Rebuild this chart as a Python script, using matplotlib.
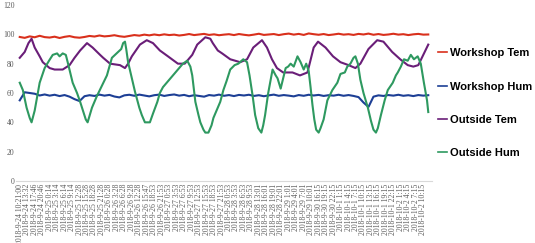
import numpy as np
import matplotlib
matplotlib.use('Agg')
import matplotlib.pyplot as plt

# tick labels (one every 12 samples)
tick_labels = ['2018-9-24 10:21:00', '2018-9-24 13:32', '2018-9-24 17:46', '2018-9-24 20:46']
tick_labels += ['2018-9-25 ' + t for t in ['0:14', '3:14', '6:14', '9:14', '12:28', '15:28', '18:28', '21:28']]
tick_labels += ['2018-9-26 ' + t for t in ['0:28', '3:28', '6:28', '9:28', '12:28', '15:47', '18:53', '21:53']]
tick_labels += ['2018-9-27 ' + t for t in ['0:53', '3:53', '6:53', '9:53', '12:53', '15:53', '18:53', '21:53']]
tick_labels += ['2018-9-28 ' + t for t in ['0:53', '3:53', '6:53', '9:53', '13:01', '16:01', '19:01', '22:01']]
tick_labels += ['2018-9-29 ' + t for t in ['1:01', '4:01', '7:01', '10:01']]
tick_labels += ['2018-9-30 ' + t for t in ['16:15', '19:15', '22:15']]
tick_labels += ['2018-10-1 ' + t for t in ['1:15', '4:15', '7:15', '10:15', '13:15', '16:15', '19:15', '22:15']]
tick_labels += ['2018-10-2 ' + t for t in ['1:15', '4:15', '7:15', '10:15']]
tick_step = 12
n_samples = 656

# Workshop Tem (sampled every 8 samples)
workshop_tem = [98.2, 97.6, 98.6, 98.0, 99.0, 98.1, 97.8, 98.4, 97.5, 98.3, 98.8, 98.0, 97.7, 98.2,
                98.9, 98.5, 99.2, 98.6, 98.9, 99.4, 98.7, 98.3, 98.9, 99.5, 99.1, 99.8, 99.3, 99.9,
                99.4, 100.0, 99.5, 99.8, 99.2, 99.6, 100.2, 99.5, 99.9, 100.3, 99.6, 100.0, 99.4, 99.8,
                100.1, 99.5, 100.2, 99.7, 99.3, 99.8, 100.4, 99.6, 99.9, 100.2, 99.5, 100.1, 100.5, 99.8,
                100.3, 99.6, 100.6, 100.1, 99.7, 100.2, 99.5, 99.9, 100.4, 99.8, 100.1, 99.6, 100.3, 99.9,
                100.5, 99.7, 100.2, 99.6, 99.9, 100.4, 99.8, 100.1, 99.5, 100.0, 100.3, 99.8, 99.9]

# Workshop Hum (sampled every 8 samples)
workshop_hum = [55.0, 60.5, 60.0, 59.5, 58.3, 59.0, 58.2, 58.8, 57.9, 58.6, 57.5, 55.8, 54.5, 57.8,
                58.5, 58.0, 58.9, 58.2, 58.7, 57.6, 57.0, 58.4, 58.8, 58.1, 58.9, 58.3, 57.7, 58.5,
                58.9, 58.0, 58.6, 59.0, 58.2, 58.7, 57.8, 58.5, 58.0, 57.5, 58.6, 58.2, 58.9, 58.1,
                58.6, 57.9, 58.7, 58.3, 58.8, 58.0, 58.5, 57.8, 58.4, 58.9, 58.1, 58.6, 58.2, 57.7,
                58.6, 58.1, 58.8, 58.3, 58.7, 58.0, 58.5, 58.2, 58.8, 58.1, 58.6, 58.0, 57.2, 53.5,
                50.5, 57.5, 58.4, 58.0, 58.6, 58.2, 58.8, 58.1, 58.5, 57.9, 58.6, 58.2, 58.5]

# Outside Tem (sample index, value)
outside_tem_t = [0, 8, 14, 19, 24, 32, 37, 48, 56, 69, 80, 88, 97, 108, 117, 129, 134, 145, 161, 169,
                 174, 180, 193, 204, 214, 225, 238, 254, 265, 269, 277, 285, 298, 306, 310, 318, 325,
                 338, 354, 365, 375, 389, 397, 405, 413, 423, 438, 450, 462, 472, 479, 491, 503, 515,
                 528, 539, 547, 560, 574, 584, 598, 611, 623, 632, 640, 648, 656]
outside_tem = [84, 88, 94, 97, 91, 85, 81, 77, 76, 76, 79, 84, 89, 94, 91, 86, 84, 80, 79, 77,
               80, 85, 93, 96, 94, 89, 85, 80, 80, 82, 86, 93, 98, 97, 94, 89, 87,
               83, 81, 83, 91, 96, 91, 83, 77, 74, 74, 72, 74, 91, 95, 91, 85, 81,
               79, 77, 80, 90, 96, 95, 88, 83, 79, 78, 79, 86, 93]

# Outside Hum (sample index, value)
outside_hum_t = [0, 5, 11, 16, 19, 24, 29, 32, 40, 47, 53, 60, 64, 69, 74, 77, 85, 92, 97, 103, 106,
                 109, 116, 124, 132, 140, 148, 158, 163, 166, 169, 171, 174, 179, 185, 192, 196, 201,
                 209, 214, 221, 225, 230, 238, 246, 254, 262, 269, 274, 277, 282, 287, 290, 295, 298,
                 303, 308, 311, 316, 322, 327, 332, 338, 345, 351, 359, 365, 369, 374, 378, 383, 388,
                 391, 394, 399, 406, 411, 414, 419, 423, 427, 431, 435, 440, 446, 451, 456, 460, 464,
                 467, 470, 473, 476, 480, 483, 488, 494, 502, 510, 515, 522, 526, 531, 536, 539, 543,
                 547, 552, 559, 564, 568, 572, 575, 580, 586, 591, 599, 604, 607, 612, 617, 623, 628,
                 633, 639, 644, 649, 654, 656]
outside_hum = [67, 62, 50, 43, 40, 48, 60, 67, 77, 82, 86, 87, 85, 87, 86, 81, 67, 60, 54, 46, 42,
               40, 50, 58, 65, 72, 84, 88, 90, 94, 95, 90, 81, 72, 61, 50, 45, 40,
               40, 46, 54, 60, 64, 68, 72, 76, 80, 82, 78, 72, 54, 45, 40, 35, 33,
               33, 38, 43, 48, 54, 62, 68, 76, 79, 80, 83, 81, 72, 58, 45, 36, 33,
               38, 45, 60, 76, 72, 70, 63, 70, 77, 78, 80, 78, 85, 81, 76, 80, 75,
               64, 52, 42, 35, 33, 36, 42, 55, 62, 67, 73, 74, 78, 80, 84, 85, 80,
               69, 60, 50, 41, 35, 33, 36, 45, 55, 62, 67, 72, 74, 78, 83, 82, 86,
               83, 85, 80, 67, 55, 47]

series_names = ['Workshop Tem', 'Workshop Hum', 'Outside Tem', 'Outside Hum']
colors = ['#d9301c', '#1d3f95', '#6a1e78', '#2e9960']

plt.rcParams['font.family'] = 'Liberation Serif'

fig = plt.figure(figsize=(5.35, 2.43), dpi=100)
ax = fig.add_axes([16 / 535, 62 / 243, 416 / 535, 176 / 243])

x_tem = np.linspace(0, n_samples, len(workshop_tem))
x_hum = np.linspace(0, n_samples, len(workshop_hum))
ax.plot(x_tem, workshop_tem, color=colors[0], lw=1.5, label=series_names[0])
ax.plot(x_hum, workshop_hum, color=colors[1], lw=1.5, label=series_names[1])
ax.plot(outside_tem_t, outside_tem, color=colors[2], lw=1.5, label=series_names[2])
ax.plot(outside_hum_t, outside_hum, color=colors[3], lw=1.5, label=series_names[3])

ax.set_xlim(-6, 662)
ax.set_ylim(0, 120)
ax.set_yticks(range(0, 121, 20))
ax.set_xticks(np.arange(len(tick_labels)) * tick_step)
ax.set_xticklabels(tick_labels, rotation=90, fontsize=5.5, color='#595959')
ax.tick_params(axis='y', labelsize=5.5, labelcolor='#595959', length=0, pad=1)
ax.tick_params(axis='x', length=0, pad=2)
for side in ['top', 'right', 'left']:
    ax.spines[side].set_visible(False)
ax.spines['bottom'].set_color('#d9d9d9')
ax.spines['bottom'].set_linewidth(0.8)

leg = fig.legend(loc='center left', bbox_to_anchor=(428 / 535, 0.575), frameon=False,
                 handlelength=0.8, handletextpad=0.3, labelspacing=2.1,
                 prop={'family': 'Liberation Sans', 'weight': 'bold', 'size': 8})
for line in leg.get_lines():
    line.set_linewidth(1.2)

fig.savefig('out.png', dpi=100)
